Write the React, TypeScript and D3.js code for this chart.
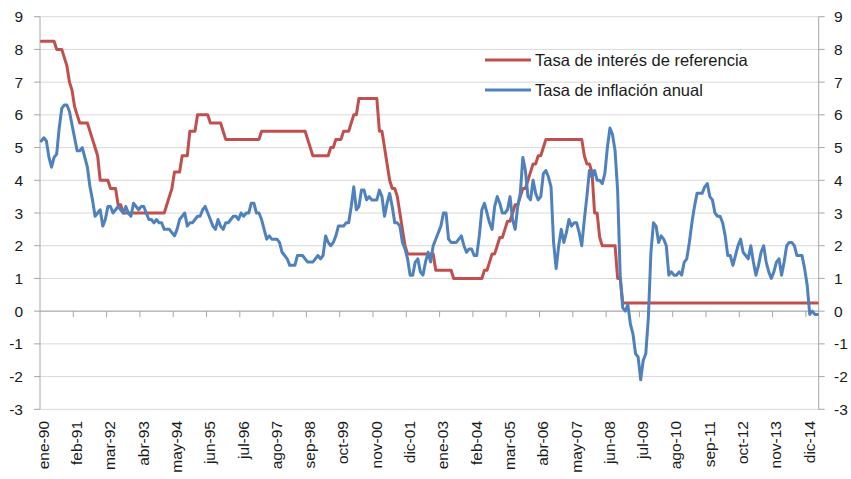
import React from "react";
import * as d3 from "d3";

// Tick labels on the category axis (one every 13 months)
const tickLabels = [
  "ene-90", "feb-91", "mar-92", "abr-93", "may-94", "jun-95", "jul-96", "ago-97",
  "sep-98", "oct-99", "nov-00", "dic-01", "ene-03", "feb-04", "mar-05", "abr-06",
  "may-07", "jun-08", "jul-09", "ago-10", "sep-11", "oct-12", "nov-13", "dic-14",
];
const tickStep = 13;
const yTicks = [-3, -2, -1, 0, 1, 2, 3, 4, 5, 6, 7, 8, 9];

const seriesNames = ["Tasa de interés de referencia", "Tasa de inflación anual"];
const seriesColors = ["#C0504D", "#4F81BD"];

// Monthly values, ene-90 .. abr-15
const interestRate = [
  8.25, 8.25, 8.25, 8.25, 8.25, 8.25, 8, 8, 8, 7.75, 7.5, 7,
  6.75, 6.25, 6, 5.75, 5.75, 5.75, 5.75, 5.5, 5.25, 5, 4.75, 4,
  4, 4, 4, 3.75, 3.75, 3.75, 3.25, 3.25, 3, 3, 3, 3,
  3, 3, 3, 3, 3, 3, 3, 3, 3, 3, 3, 3,
  3, 3.25, 3.5, 3.75, 4.25, 4.25, 4.25, 4.75, 4.75, 4.75, 5.5, 5.5,
  5.5, 6, 6, 6, 6, 6, 5.75, 5.75, 5.75, 5.75, 5.75, 5.5,
  5.25, 5.25, 5.25, 5.25, 5.25, 5.25, 5.25, 5.25, 5.25, 5.25, 5.25, 5.25,
  5.25, 5.25, 5.5, 5.5, 5.5, 5.5, 5.5, 5.5, 5.5, 5.5, 5.5, 5.5,
  5.5, 5.5, 5.5, 5.5, 5.5, 5.5, 5.5, 5.5, 5.25, 5, 4.75, 4.75,
  4.75, 4.75, 4.75, 4.75, 4.75, 5, 5, 5.25, 5.25, 5.25, 5.5, 5.5,
  5.5, 5.75, 6, 6, 6.5, 6.5, 6.5, 6.5, 6.5, 6.5, 6.5, 6.5,
  5.5, 5.5, 5, 4.5, 4, 3.75, 3.75, 3.5, 3, 2.5, 2, 1.75,
  1.75, 1.75, 1.75, 1.75, 1.75, 1.75, 1.75, 1.75, 1.75, 1.75, 1.25, 1.25,
  1.25, 1.25, 1.25, 1.25, 1.25, 1, 1, 1, 1, 1, 1, 1,
  1, 1, 1, 1, 1, 1.25, 1.25, 1.5, 1.75, 1.75, 2, 2.25,
  2.25, 2.5, 2.75, 2.75, 3, 3.25, 3.25, 3.5, 3.75, 3.75, 4, 4.25,
  4.5, 4.5, 4.75, 4.75, 5, 5.25, 5.25, 5.25, 5.25, 5.25, 5.25, 5.25,
  5.25, 5.25, 5.25, 5.25, 5.25, 5.25, 5.25, 5.25, 4.75, 4.5, 4.5, 4.25,
  3, 3, 2.25, 2, 2, 2, 2, 2, 2, 1, 1, 0.25,
  0.25, 0.25, 0.25, 0.25, 0.25, 0.25, 0.25, 0.25, 0.25, 0.25, 0.25, 0.25,
  0.25, 0.25, 0.25, 0.25, 0.25, 0.25, 0.25, 0.25, 0.25, 0.25, 0.25, 0.25,
  0.25, 0.25, 0.25, 0.25, 0.25, 0.25, 0.25, 0.25, 0.25, 0.25, 0.25, 0.25,
  0.25, 0.25, 0.25, 0.25, 0.25, 0.25, 0.25, 0.25, 0.25, 0.25, 0.25, 0.25,
  0.25, 0.25, 0.25, 0.25, 0.25, 0.25, 0.25, 0.25, 0.25, 0.25, 0.25, 0.25,
  0.25, 0.25, 0.25, 0.25, 0.25, 0.25, 0.25, 0.25, 0.25, 0.25, 0.25, 0.25,
  0.25, 0.25, 0.25, 0.25,
];

const inflation = [
  5.2, 5.3, 5.2, 4.7, 4.4, 4.7, 4.8, 5.6, 6.2, 6.3, 6.3, 6.1,
  5.7, 5.3, 4.9, 4.9, 5.0, 4.7, 4.4, 3.8, 3.4, 2.9, 3.0, 3.1,
  2.6, 2.8, 3.2, 3.2, 3.0, 3.1, 3.2, 3.1, 3.0, 3.2, 3.0, 2.9,
  3.3, 3.2, 3.1, 3.2, 3.2, 3.0, 2.8, 2.8, 2.7, 2.8, 2.7, 2.7,
  2.5, 2.5, 2.5, 2.4, 2.3, 2.5, 2.8, 2.9, 3.0, 2.6, 2.7, 2.7,
  2.8, 2.9, 2.9, 3.1, 3.2, 3.0, 2.8, 2.6, 2.5, 2.8, 2.6, 2.5,
  2.7, 2.7, 2.8, 2.9, 2.9, 2.8, 3.0, 2.9, 3.0, 3.0, 3.3, 3.3,
  3.0, 3.0, 2.8, 2.5, 2.2, 2.3, 2.2, 2.2, 2.2, 2.1, 1.8, 1.7,
  1.6, 1.4, 1.4, 1.4, 1.7, 1.7, 1.7, 1.6, 1.5, 1.5, 1.5, 1.6,
  1.7, 1.6, 1.7, 2.3, 2.1, 2.0, 2.1, 2.3, 2.6, 2.6, 2.6, 2.7,
  2.7, 3.2, 3.8, 3.1, 3.2, 3.7, 3.7, 3.4, 3.5, 3.4, 3.4, 3.4,
  3.7, 3.5, 2.9, 3.3, 3.6, 3.2, 2.7, 2.7, 2.6, 2.1, 1.9, 1.6,
  1.1, 1.1, 1.5, 1.6, 1.2, 1.1, 1.5, 1.8, 1.5, 2.0, 2.2, 2.4,
  2.6, 3.0, 3.0, 2.2, 2.1, 2.1, 2.1, 2.2, 2.3, 2.0, 1.8, 1.9,
  1.9, 1.7, 1.7, 2.3, 3.1, 3.3, 3.0, 2.7, 2.5, 3.2, 3.5, 3.3,
  3.0, 3.0, 3.1, 3.5, 2.8, 2.5, 3.2, 3.6, 4.7, 4.3, 3.5, 3.4,
  4.0, 3.6, 3.4, 3.5, 4.2, 4.3, 4.1, 3.8, 2.1, 1.3, 2.0, 2.5,
  2.1, 2.4, 2.8, 2.6, 2.7, 2.7, 2.4, 2.0, 2.8, 3.5, 4.3, 4.1,
  4.3, 4.0, 4.0, 3.9, 4.2, 5.0, 5.6, 5.4, 4.9, 3.7, 1.1, 0.1,
  0.0, 0.2, -0.4, -0.7, -1.3, -1.4, -2.1, -1.5, -1.3, -0.2, 1.8, 2.7,
  2.6, 2.1, 2.3, 2.2, 2.0, 1.1, 1.2, 1.1, 1.1, 1.2, 1.1, 1.5,
  1.6, 2.1, 2.7, 3.2, 3.6, 3.6, 3.6, 3.8, 3.9, 3.5, 3.4, 3.0,
  2.9, 2.9, 2.7, 2.3, 1.7, 1.7, 1.4, 1.7, 2.0, 2.2, 1.8, 1.7,
  1.6, 2.0, 1.5, 1.1, 1.4, 1.8, 2.0, 1.5, 1.2, 1.0, 1.2, 1.5,
  1.6, 1.1, 1.5, 2.0, 2.1, 2.1, 2.0, 1.7, 1.7, 1.7, 1.3, 0.8,
  -0.1, 0.0, -0.1, -0.1,
];

const FONT = "'Liberation Sans', Arial, sans-serif";

export default function App() {
  const W = 851;
  const H = 479;
  const left = 40;
  const right = 818.7;
  const top = 16.7;
  const bottom = 409.3;
  const n = inflation.length;

  const x = d3
    .scaleBand<number>()
    .domain(d3.range(n))
    .range([left, right])
    .paddingInner(0)
    .paddingOuter(0);
  const bw = x.bandwidth();
  const cx = (i: number) => (x(i) as number) + bw / 2;
  const y = d3.scaleLinear().domain([-3, 9]).range([bottom, top]);

  const line = d3
    .line<number>()
    .x((_, i) => cx(i))
    .y((d) => y(d));

  const axisColor = "#A6A6A6";
  const gridColor = "#D9D9D9";
  const textColor = "#1a1a1a";

  const series = [interestRate, inflation];

  return (
    <svg
      width={W}
      height={H}
      style={{ position: "absolute", left: 0, top: 0, background: "#fff" }}
      fontFamily={FONT}
    >
      <rect x={0} y={0} width={W} height={H} fill="#fff" />
      {/* gridlines */}
      {yTicks.map((t) => (
        <line
          key={"g" + t}
          x1={left}
          x2={right}
          y1={y(t)}
          y2={y(t)}
          stroke={gridColor}
          strokeWidth={1}
        />
      ))}
      {/* left axis */}
      <line x1={left} x2={left} y1={top} y2={bottom} stroke={axisColor} />
      {yTicks.map((t) => (
        <g key={"l" + t}>
          <line x1={left - 6} x2={left} y1={y(t)} y2={y(t)} stroke={axisColor} />
          <text
            x={23}
            y={y(t)}
            textAnchor="end"
            dominantBaseline="central"
            fontSize={15.5}
            fill={textColor}
          >
            {t}
          </text>
        </g>
      ))}
      {/* right axis */}
      <line x1={right} x2={right} y1={top} y2={bottom} stroke={axisColor} />
      {yTicks.map((t) => (
        <g key={"r" + t}>
          <line x1={right} x2={right + 6} y1={y(t)} y2={y(t)} stroke={axisColor} />
          <text
            x={834}
            y={y(t)}
            textAnchor="start"
            dominantBaseline="central"
            fontSize={15.5}
            fill={textColor}
          >
            {t}
          </text>
        </g>
      ))}
      {/* category axis at zero */}
      <line x1={left} x2={right} y1={y(0)} y2={y(0)} stroke={axisColor} />
      {tickLabels.map((lab, k) => {
        const bx = left + k * tickStep * bw;
        const lx = cx(k * tickStep);
        return (
          <g key={"x" + k}>
            {k > 0 && (
              <line x1={bx} x2={bx} y1={y(0)} y2={y(0) + 6} stroke={axisColor} />
            )}
            <text
              transform={`translate(${lx + 2},421) rotate(-90)`}
              textAnchor="end"
              dominantBaseline="central"
              fontSize={15.5}
              fill={textColor}
            >
              {lab}
            </text>
          </g>
        );
      })}
      {/* series */}
      {series.map((s, si) => (
        <path
          key={"s" + si}
          d={line(s) || ""}
          fill="none"
          stroke={seriesColors[si]}
          strokeWidth={3}
          strokeLinejoin="round"
          strokeLinecap="round"
        />
      ))}
      {/* legend */}
      {seriesNames.map((name, si) => (
        <g key={"lg" + si}>
          <line
            x1={485}
            x2={531}
            y1={60 + si * 30}
            y2={60 + si * 30}
            stroke={seriesColors[si]}
            strokeWidth={3}
          />
          <text
            x={535}
            y={60 + si * 30}
            dominantBaseline="central"
            fontSize={16.5}
            fill={textColor}
          >
            {name}
          </text>
        </g>
      ))}
    </svg>
  );
}
